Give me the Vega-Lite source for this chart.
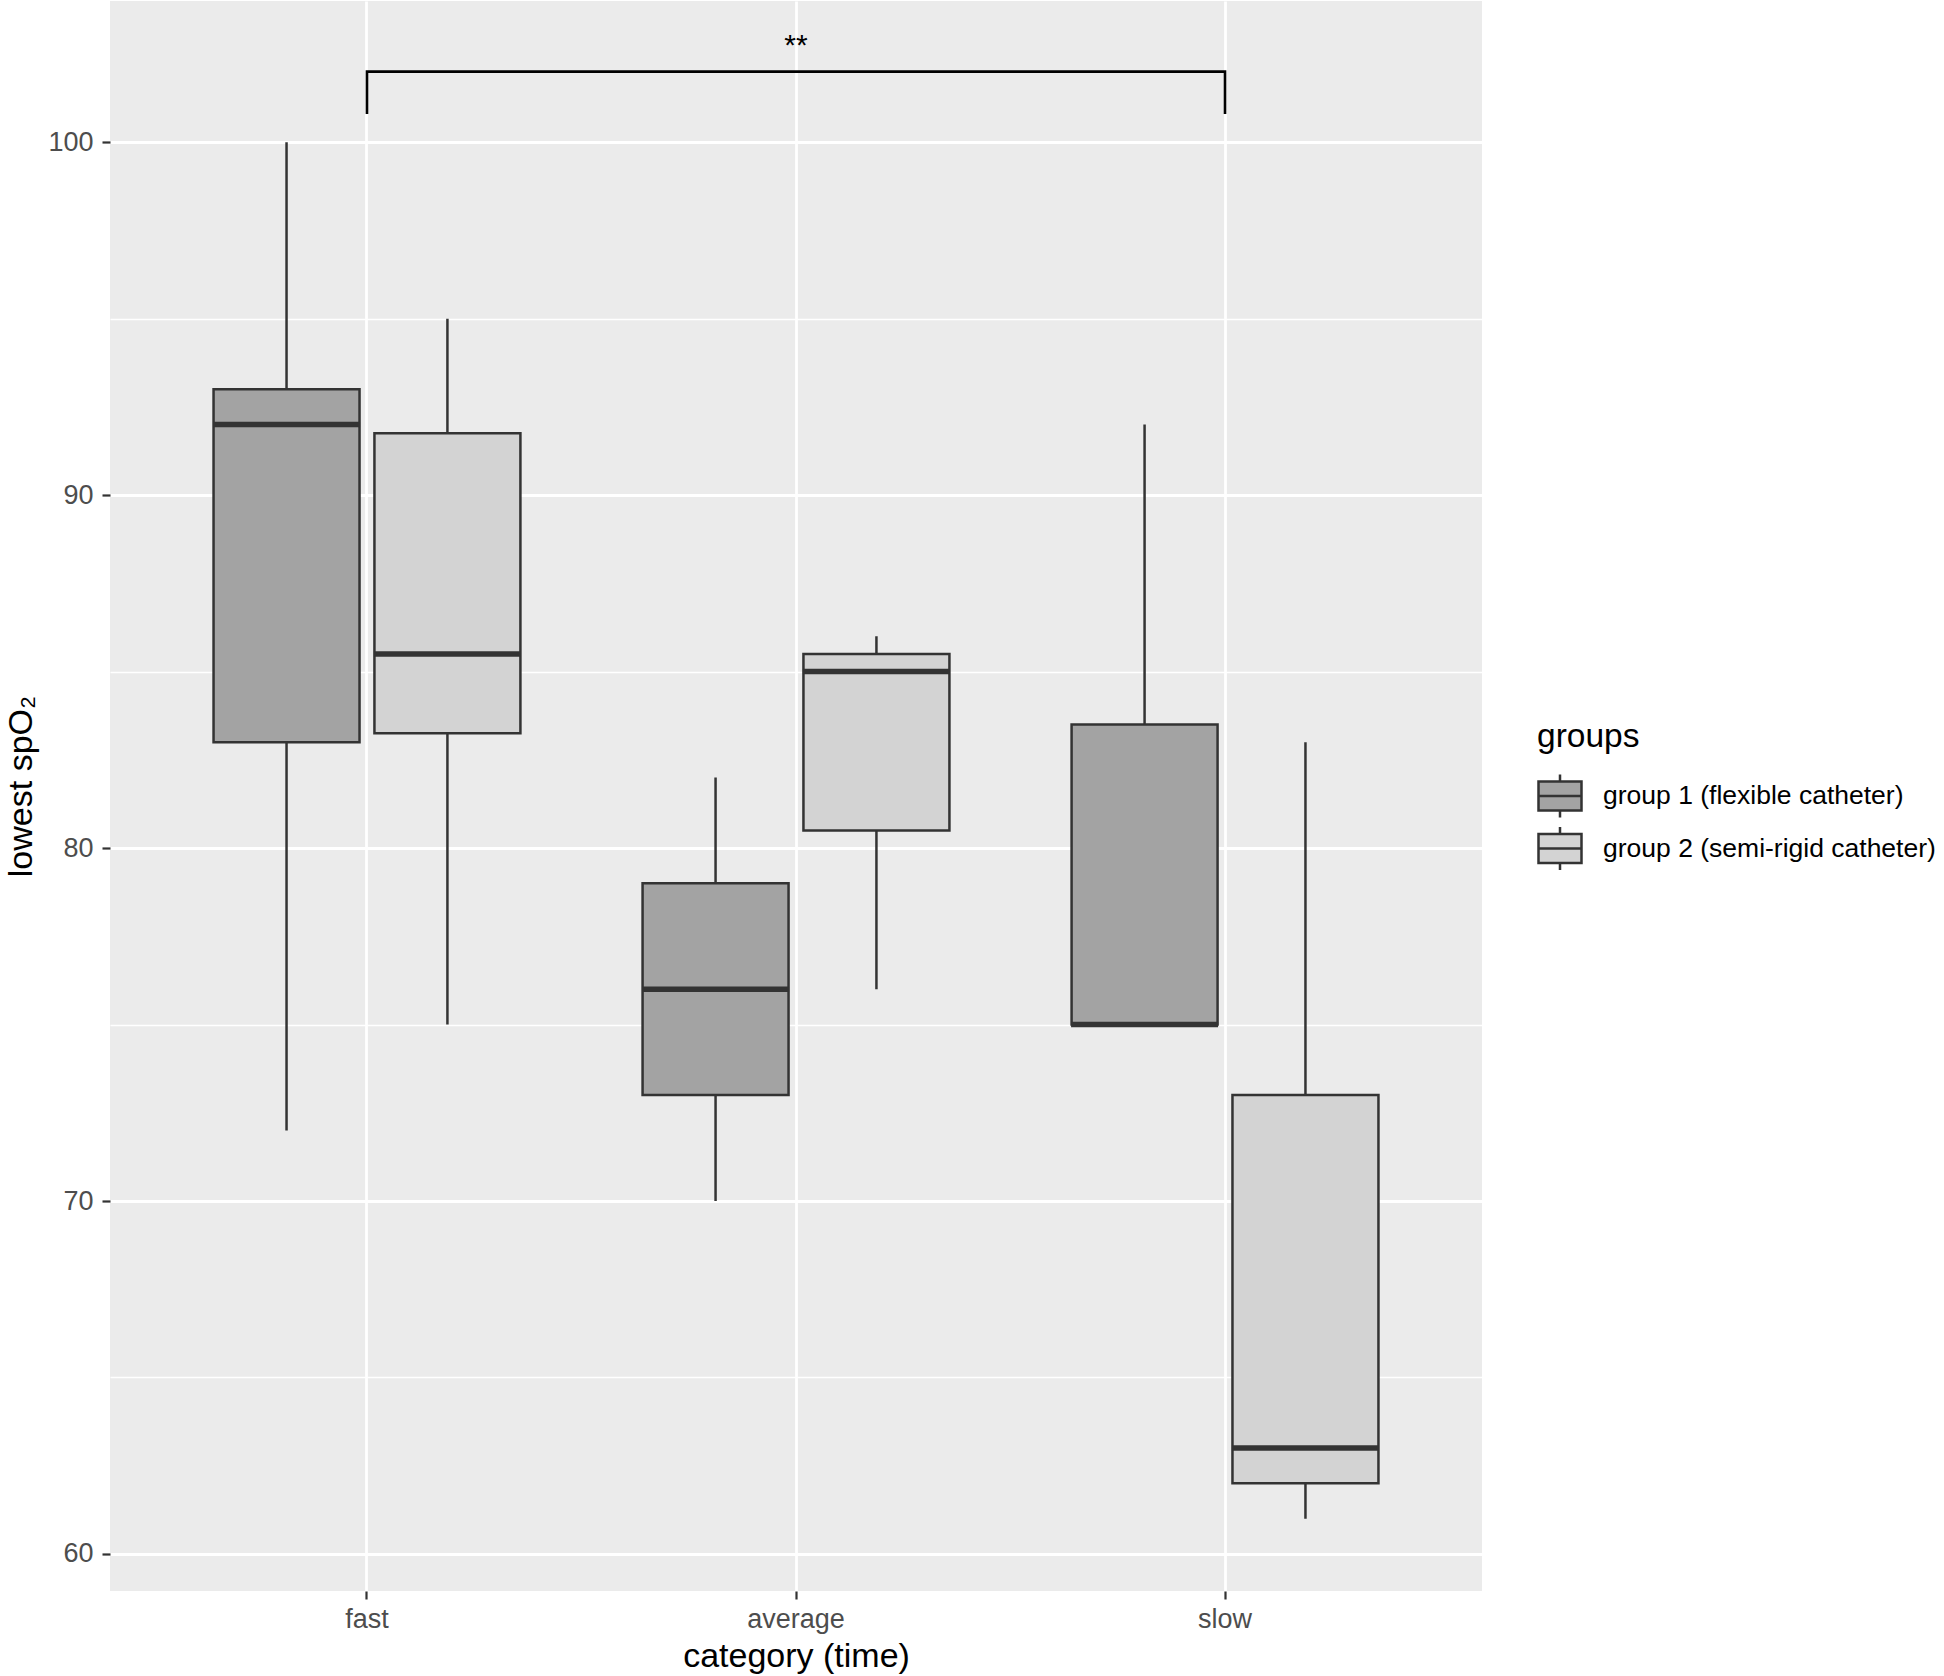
{
  "$schema": "https://vega.github.io/schema/vega-lite/v6.json",
  "width": 1372,
  "height": 1590,
  "autosize": {"type": "none"},
  "padding": {"left": 110, "top": 1, "right": 462, "bottom": 85},
  "background": "white",
  "config": {
    "font": "Liberation Sans",
    "view": {"fill": "#EBEBEB", "stroke": null},
    "axis": {
      "domain": false,
      "grid": true,
      "gridColor": "#FFFFFF",
      "tickColor": "#333333",
      "tickWidth": 2.2,
      "tickSize": 8,
      "labelColor": "#4D4D4D",
      "labelFont": "Liberation Sans",
      "labelFontSize": 27,
      "titleFont": "Liberation Sans",
      "titleFontSize": 34,
      "titleFontWeight": "normal",
      "titleColor": "#000000"
    }
  },
  "datasets": {
    "boxes": [
      {"category": "fast", "group": "group 1 (flexible catheter)", "lower": 72, "q1": 83, "median": 92, "q3": 93, "upper": 100},
      {"category": "fast", "group": "group 2 (semi-rigid catheter)", "lower": 75, "q1": 83.25, "median": 85.5, "q3": 91.75, "upper": 95},
      {"category": "average", "group": "group 1 (flexible catheter)", "lower": 70, "q1": 73, "median": 76, "q3": 79, "upper": 82},
      {"category": "average", "group": "group 2 (semi-rigid catheter)", "lower": 76, "q1": 80.5, "median": 85, "q3": 85.5, "upper": 86},
      {"category": "slow", "group": "group 1 (flexible catheter)", "lower": 75, "q1": 75, "median": 75, "q3": 83.5, "upper": 92},
      {"category": "slow", "group": "group 2 (semi-rigid catheter)", "lower": 61, "q1": 62, "median": 63, "q3": 73, "upper": 83}
    ],
    "bracket": [
      {"category": "fast", "y": 100.8, "ord": 1},
      {"category": "fast", "y": 102, "ord": 2},
      {"category": "slow", "y": 102, "ord": 3},
      {"category": "slow", "y": 100.8, "ord": 4}
    ],
    "signif": [
      {"category": "average", "y": 102.46, "label": "**"}
    ]
  },
  "layer": [
    {
      "data": {"name": "boxes"},
      "mark": {"type": "rule", "color": "#333333", "strokeWidth": 2.5},
      "encoding": {
        "x": {
          "field": "category", "type": "nominal",
          "scale": {"domain": ["fast", "average", "slow"], "paddingInner": 0.25, "paddingOuter": 0.224},
          "axis": {"title": "category (time)", "labelAngle": 0, "bandPosition": 0.5, "gridWidth": 2.8, "labelPadding": 7, "titleX": 686, "titleY": 75, "titleBaseline": "alphabetic", "titleAnchor": null, "titleAlign": "center"}
        },
        "xOffset": {"field": "group", "type": "nominal", "scale": {"paddingInner": 0.0926, "paddingOuter": 0.0463}},
        "y": {
          "field": "lower", "type": "quantitative",
          "scale": {"domain": [58.95, 104.0], "nice": false, "zero": false},
          "axis": {
            "title": "lowest spO₂",
            "values": [60, 65, 70, 75, 80, 85, 90, 95, 100],
            "labelExpr": "datum.value % 10 === 0 ? datum.label : ''",
            "tickOpacity": {"condition": {"test": "datum.value % 10 !== 0", "value": 0}, "value": 1},
            "gridWidth": {"condition": {"test": "datum.value % 10 !== 0", "value": 1.4}, "value": 2.8},
            "labelPadding": 9,
            "titleX": -78.5, "titleY": 785, "titleAngle": -90, "titleBaseline": "alphabetic", "titleAlign": "center", "titleAnchor": null
          }
        },
        "y2": {"field": "upper"}
      }
    },
    {
      "data": {"name": "boxes"},
      "mark": {"type": "bar", "stroke": "#333333", "strokeWidth": 2.5},
      "encoding": {
        "x": {"field": "category", "type": "nominal"},
        "xOffset": {"field": "group", "type": "nominal"},
        "y": {"field": "q1", "type": "quantitative"},
        "y2": {"field": "q3"},
        "fill": {
          "field": "group", "type": "nominal",
          "scale": {"range": ["#A3A3A3", "#D3D3D3"]},
          "legend": {
            "title": "groups",
            "orient": "none",
            "legendX": 1427,
            "legendY": 720,
            "padding": 0,
            "titleFont": "Liberation Sans",
            "titleFontSize": 33.5,
            "titleFontWeight": "normal",
            "titleColor": "#000000",
            "titlePadding": 18.5,
            "labelFont": "Liberation Sans",
            "labelFontSize": 26.5,
            "labelColor": "#000000",
            "labelOffset": 20,
            "labelLimit": 600,
            "rowPadding": -1.5,
            "symbolType": "M-1,-0.674H1V0.674H-1Z M-1,0H1 M0,-0.674V-1 M0,0.674V1",
            "symbolSize": 1849,
            "symbolStrokeColor": "#333333",
            "symbolStrokeWidth": 2.5,
            "symbolOpacity": 1
          }
        }
      }
    },
    {
      "data": {"name": "boxes"},
      "mark": {"type": "tick", "color": "#333333", "thickness": 5.5, "size": 147, "opacity": 1},
      "encoding": {
        "x": {"field": "category", "type": "nominal"},
        "xOffset": {"field": "group", "type": "nominal"},
        "y": {"field": "median", "type": "quantitative"}
      }
    },
    {
      "data": {"name": "bracket"},
      "mark": {"type": "line", "color": "#000000", "strokeWidth": 2.6},
      "encoding": {
        "x": {"field": "category", "type": "nominal"},
        "y": {"field": "y", "type": "quantitative"},
        "order": {"field": "ord", "type": "quantitative"}
      }
    },
    {
      "data": {"name": "signif"},
      "mark": {"type": "text", "fontSize": 30, "font": "Liberation Sans", "color": "#000000", "baseline": "alphabetic", "align": "center"},
      "encoding": {
        "x": {"field": "category", "type": "nominal"},
        "y": {"field": "y", "type": "quantitative"},
        "text": {"field": "label"}
      }
    }
  ]
}
